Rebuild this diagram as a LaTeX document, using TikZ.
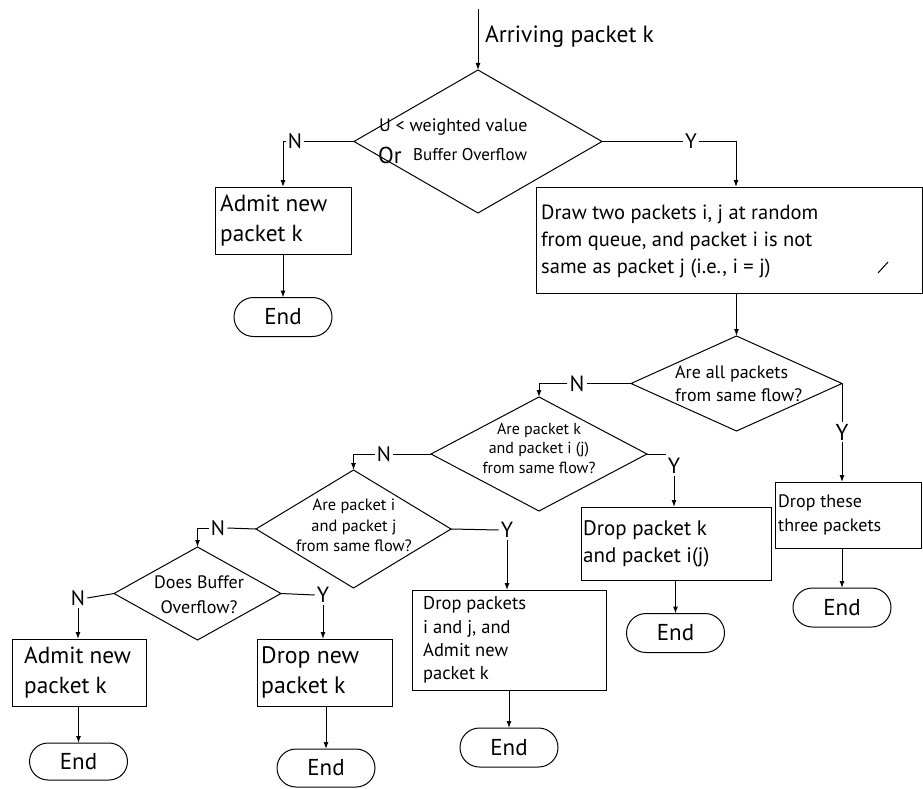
\documentclass[tikz,border=0pt]{standalone}
\usepackage{fontspec}
\setmainfont{PT Sans}
\usetikzlibrary{shapes.geometric,shapes.misc,arrows.meta}
\newcommand{\fs}[2]{\fontsize{#1}{#2}\selectfont}
\tikzset{
  flow/.style={line width=1pt, draw=black},
  arr/.style={flow, -{Latex[length=7pt,width=5pt]}},
  boxnode/.style={flow, rectangle, inner sep=0pt, outer sep=0pt},
  dianode/.style={flow, diamond, inner sep=0pt, outer sep=0pt},
  endnode/.style={flow, rounded rectangle, inner sep=0pt, outer sep=0pt, minimum width=98pt, minimum height=39pt, font=\fs{23}{23}},
  lbl/.style={inner sep=2pt, font=\fs{21}{21}},
  txt/.style={inner sep=0pt, align=center},
  btxt/.style={inner sep=0pt, align=left, anchor=west},
}
\begin{document}
\begin{tikzpicture}[x=1pt,y=-1pt]
\useasboundingbox[fill=white] (0,0) rectangle (923,789);

% top
\coordinate (start) at (478,9);
\node[btxt, font=\fs{23.5}{23.5}] (arriving) at (485,37) {Arriving packet k};
\node[dianode, minimum width=248pt, minimum height=143pt] (d1) at (478,141.5) {};
\node[btxt, font=\fs{18}{18}] (d1a) at (379,127) {U < weighted value};
\node[btxt, font=\fs{23}{23}] (d1b) at (378,155) {Or};
\node[btxt, font=\fs{17}{17}] (d1c) at (413,155) {Buffer Overflow};
\node[lbl] (n1) at (295,141.5) {N};
\node[lbl] (y1) at (691,141.5) {Y};

\node[boxnode, minimum width=136pt, minimum height=67pt] (admit1) at (283,220.5) {};
\node[btxt, font=\fs{23.3}{30}] (admit1t) at (220,220.5) {Admit new\\packet k};
\node[endnode] (end1) at (283,317) {End};

\node[boxnode, minimum width=386pt, minimum height=106pt] (big) at (729,240) {};
\coordinate (bigin) at (736,187);
\node[btxt, font=\fs{20.5}{27}] (bigt) at (541,241.5) {Draw two packets i, j at random\\from queue, and packet i is not\\same as packet j (i.e., i = j)};
\coordinate (sl1) at (878,273);
\coordinate (sl2) at (888,262);

% diamond 2
\node[dianode, minimum width=211pt, minimum height=95pt] (d2) at (736.5,383.5) {};
\node[btxt, font=\fs{18}{22.5}] (d2t) at (675,383.5) {Are all packets\\from same flow?};
\node[lbl, font=\fs{22}{22}] (n2) at (577,383.5) {N};
\node[lbl, font=\fs{23}{23}] (y2) at (842,432) {Y};
\node[boxnode, minimum width=146pt, minimum height=66pt] (b3) at (848,515) {};
\node[btxt, font=\fs{18}{24}] (b3t) at (778,515) {Drop these\\three packets};
\node[endnode] (end2) at (842,607.5) {End};

% diamond 3
\node[dianode, minimum width=216pt, minimum height=114pt] (d3) at (539,454) {};
\node[txt, font=\fs{16}{19.5}] (d3t) at (539,448) {Are packet k\\and packet i (j)\\from same flow?};
\node[lbl] (n3) at (384,454) {N};
\node[lbl, font=\fs{22}{22}] (y3) at (674,466) {Y};
\node[boxnode, minimum width=190pt, minimum height=73pt] (dropk) at (676,543.5) {};
\node[btxt, font=\fs{21}{27}] (dropkt) at (583,543.5) {Drop packet k\\and packet i(j)};
\node[endnode] (end3) at (675.5,633) {End};

% diamond 4
\node[dianode, minimum width=195pt, minimum height=118pt] (d4) at (353.5,529) {};
\node[txt, font=\fs{16.4}{20.5}] (d4t) at (354,525.5) {Are packet i\\and packet j\\from same flow?};
\node[lbl] (n4) at (218,528) {N};
\node[lbl, font=\fs{22}{22}] (y4) at (507,530) {Y};
\node[boxnode, minimum width=194pt, minimum height=100pt] (dropij) at (509,640) {};
\node[btxt, font=\fs{18.5}{23.3}] (dropijt) at (423,640) {Drop packets\\i and j, and\\Admit new\\packet k};
\node[endnode] (end4) at (509,747.5) {End};

% diamond 5
\node[dianode, minimum width=167pt, minimum height=93pt] (d5) at (197.5,593.5) {};
\node[txt, font=\fs{18}{25}] (d5t) at (199,594.5) {Does Buffer\\Overflow?};
\node[lbl] (n5) at (78,598) {N};
\node[lbl, font=\fs{22}{22}] (y5) at (323,595) {Y};
\node[boxnode, minimum width=134pt, minimum height=67pt] (admit2) at (79,672.5) {};
\node[btxt, font=\fs{23.3}{30}] (admit2t) at (24,672.5) {Admit new\\packet k};
\node[endnode, minimum height=37pt] (end5) at (78.5,761.5) {End};
\node[boxnode, minimum width=135pt, minimum height=67pt] (dropnew) at (324.5,672.5) {};
\node[btxt, font=\fs{23.8}{30}] (dropnewt) at (261,672.5) {Drop new\\packet k};
\node[endnode, minimum height=38pt] (end6) at (326,768) {End};

% connectors
\draw[arr] (start) -- (d1.north);
\draw[flow] (d1.west) -- (n1.east);
\draw[arr] (n1.west) -| (admit1.north);
\draw[arr] (admit1.south) -- (end1.north);
\draw[flow] (d1.east) -- (y1.west);
\draw[arr] (y1.east) -| (bigin);
\draw[flow] (sl1) -- (sl2);
\draw[arr] (d2.north |- big.south) -- (d2.north);

\draw[flow] (d2.west) -- (n2.east);
\draw[arr] (n2.west) -| (d3.north);
\draw[flow] (d2.east) -- (y2.north);
\draw[arr] (y2.south) -- (y2.south |- b3.north);
\draw[arr] (end2.north |- b3.south) -- (end2.north);

\draw[flow] (d3.west) -- (n3.east);
\draw[arr] (n3.west) -| (d4.north);
\draw[flow] (d3.east) -- (d3.east -| y3.west);
\draw[arr] (y3.south) -- (y3.south |- dropk.north);
\draw[arr] (end3.north |- dropk.south) -- (end3.north);

\draw[flow] (d4.west) -- (n4.east);
\draw[arr] (n4.west) -| (d5.north);
\draw[flow] (d4.east) -- (y4.west);
\draw[arr] (y4.south) -- (y4.south |- dropij.north);
\draw[arr] (end4.north |- dropij.south) -- (end4.north);

\draw[flow] (d5.west) -- (n5.east);
\draw[arr] (n5.south) -- (n5.south |- admit2.north);
\draw[arr] (admit2.south -| end5.north) -- (end5.north);
\draw[flow] (d5.east) -- (y5.west);
\draw[arr] (y5.south) -- (y5.south |- dropnew.north);
\draw[arr] (end6.north |- dropnew.south) -- (end6.north);
\end{tikzpicture}
\end{document}
